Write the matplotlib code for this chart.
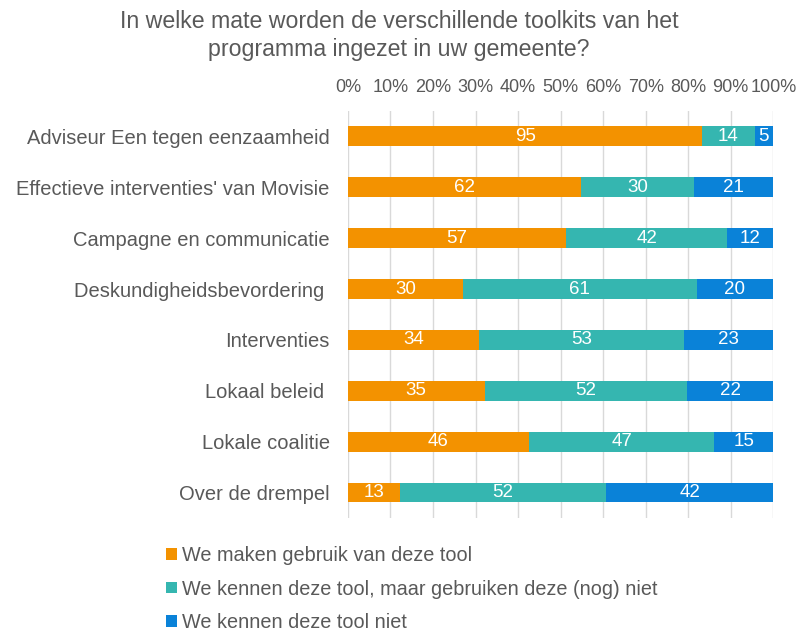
import matplotlib.pyplot as plt
import numpy as np
from matplotlib.ticker import PercentFormatter

plt.rcParams["font.family"] = ["Liberation Sans", "DejaVu Sans"]

categories = [
    "Adviseur Een tegen eenzaamheid",
    "Effectieve interventies' van Movisie",
    "Campagne en communicatie",
    "Deskundigheidsbevordering ",
    "Interventies",
    "Lokaal beleid ",
    "Lokale coalitie",
    "Over de drempel",
]
gebruik = [95, 62, 57, 30, 34, 35, 46, 13]
kennen_niet_gebruik = [14, 30, 42, 61, 53, 52, 47, 52]
kennen_niet = [5, 21, 12, 20, 23, 22, 15, 42]
series_names = [
    "We maken gebruik van deze tool",
    "We kennen deze tool, maar gebruiken deze (nog) niet",
    "We kennen deze tool niet",
]
colors = ["#F39200", "#35B6B0", "#0A82D8"]
text_color = "#595959"

counts = np.array([gebruik, kennen_niet_gebruik, kennen_niet], dtype=float)
shares = counts / counts.sum(axis=0)

fig = plt.figure(figsize=(7.98, 6.34), dpi=100)
ax = fig.add_axes([0.436, 0.183, 0.533, 0.642])

y = np.arange(len(categories))
left = np.zeros(len(categories))
handles = []
for i in range(3):
    bars = ax.barh(y, shares[i], left=left, height=0.39, color=colors[i],
                   label=series_names[i], zorder=3)
    handles.append(bars)
    for j, b in enumerate(bars):
        ax.text(left[j] + shares[i][j] / 2, y[j], f"{int(counts[i][j])}",
                ha="center", va="center", color="white", fontsize=13.5, zorder=4)
    left += shares[i]

ax.set_xlim(0, 1)
ax.set_ylim(len(categories) - 0.5, -0.5)
ax.set_yticks(y)
ax.set_yticklabels(categories, fontsize=14.5, color=text_color)
ax.set_xticks(np.linspace(0, 1, 11))
ax.xaxis.set_major_formatter(PercentFormatter(1.0, decimals=0))
ax.xaxis.tick_top()
ax.tick_params(axis="x", labelsize=13, colors=text_color, length=0, pad=11)
ax.tick_params(axis="y", length=0, pad=13)
ax.grid(axis="x", color="#D9D9D9", linewidth=1, zorder=0)
for s in ax.spines.values():
    s.set_visible(False)

fig.text(0.5, 0.985, "In welke mate worden de verschillende toolkits van het\nprogramma ingezet in uw gemeente?",
         ha="center", va="top", fontsize=16.7, color=text_color, linespacing=1.3)

leg = fig.legend(handles=handles, loc="upper left", bbox_to_anchor=(0.198, 0.151),
                 frameon=False, fontsize=14.3, labelcolor=text_color,
                 handlelength=0.55, handleheight=0.55, handletextpad=0.25,
                 labelspacing=0.72, borderaxespad=0)

fig.savefig("out.png", dpi=100)
